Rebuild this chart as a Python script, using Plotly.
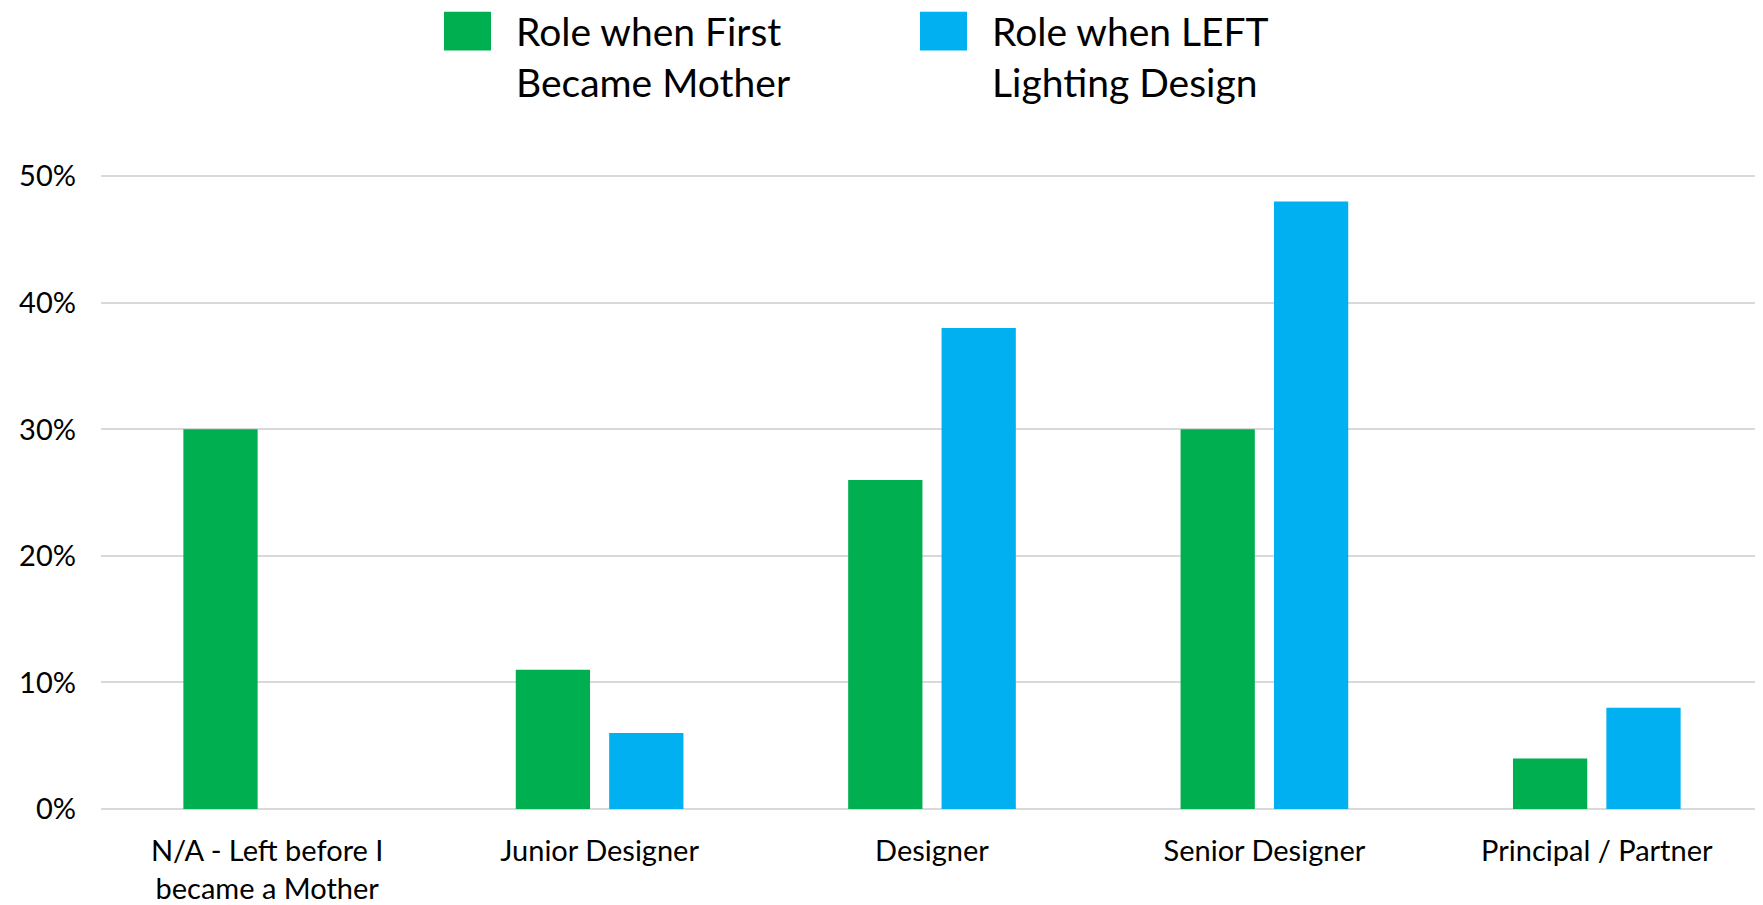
import plotly.graph_objects as go

categories = ["N/A - Left before I<br>became a Mother", "Junior Designer", "Designer",
              "Senior Designer", "Principal / Partner"]
first_mother = [0.30, 0.11, 0.26, 0.30, 0.04]
left_lighting = [0.0, 0.06, 0.38, 0.48, 0.08]
series_names = ["Role when First<br>Became Mother", "Role when LEFT<br>Lighting Design"]
colors = ["#00B050", "#00B0F0"]
y_ticks = [0, 0.1, 0.2, 0.3, 0.4, 0.5]

FONT = "Lato, Carlito, Calibri, sans-serif"

# page body has an 8px default margin
OFF = 8
W, H = 1763 - OFF, 905 - OFF
L, T, B = 101 - OFF, 175 - OFF, 89
PW, PH = W - L, H - T - B

fig = go.Figure()
for name, vals, col in zip(series_names, [first_mother, left_lighting], colors):
    fig.add_trace(go.Bar(x=categories, y=vals, name=name, marker=dict(color=col, line=dict(width=0)),
                         showlegend=False))

fig.update_layout(
    width=W, height=H,
    margin=dict(l=L, r=0, t=T, b=B),
    paper_bgcolor="white", plot_bgcolor="white",
    barmode="group", bargap=0.438, bargroupgap=0.205,
    font=dict(family=FONT, color="#000000", size=29),
    showlegend=False,
)
fig.update_xaxes(showgrid=False, showline=False, ticks="", tickfont=dict(size=29, family=FONT),
                 ticklabelstandoff=22)
fig.update_yaxes(range=[0, 0.501], tickvals=y_ticks, tickformat=".0%", showgrid=True,
                 gridcolor="#D9D9D9", gridwidth=1.5, zeroline=True, zerolinecolor="#D9D9D9",
                 zerolinewidth=1.5, showline=False, ticks="", tickfont=dict(size=29, family=FONT),
                 ticklabelstandoff=24)

# Custom legend (large swatches); positions in page pixels
legend_items = [(444, 516), (920, 992)]
def px(x):
    return (x - OFF - L) / PW
def py(y):
    return (H - B - (y - OFF)) / PH

for (sx, tx), name, col in zip(legend_items, series_names, colors):
    fig.add_shape(type="rect", xref="paper", yref="paper",
                  x0=px(sx), x1=px(sx + 47), y0=py(49), y1=py(10),
                  fillcolor=col, line=dict(width=0))
    fig.add_annotation(xref="paper", yref="paper", x=px(tx - 2), y=py(4),
                       xanchor="left", yanchor="top", showarrow=False, align="left",
                       text=name, font=dict(size=39, family=FONT, color="#000000"))

fig.write_html("out.html")
